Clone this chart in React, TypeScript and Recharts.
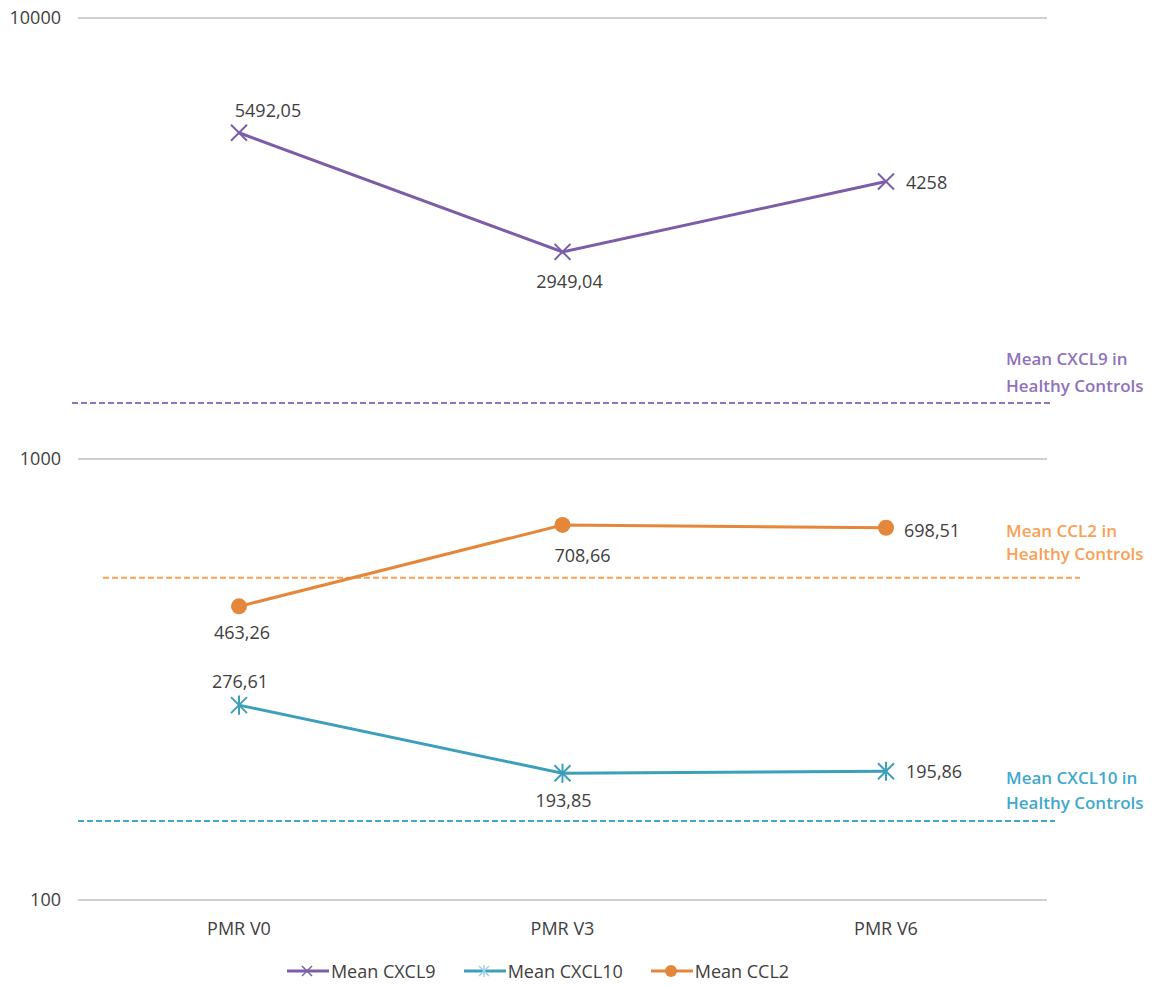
import React from 'react';
import { LineChart, Line, XAxis, YAxis, CartesianGrid, ReferenceLine, Legend } from 'recharts';

const categories = ['PMR V0', 'PMR V3', 'PMR V6'];
const cxcl9 = [5492.05, 2949.04, 4258];
const cxcl10 = [276.61, 193.85, 195.86];
const ccl2 = [463.26, 708.66, 698.51];
const cxcl9Labels = ['5492,05', '2949,04', '4258'];
const cxcl10Labels = ['276,61', '193,85', '195,86'];
const ccl2Labels = ['463,26', '708,66', '698,51'];
const healthyCXCL9 = 1340;
const healthyCCL2 = 538;
const healthyCXCL10 = 151;
const yTicks = [100, 1000, 10000];
const seriesNames = ['Mean CXCL9', 'Mean CXCL10', 'Mean CCL2'];

const data = categories.map((name, i) => ({
  name,
  cxcl9: cxcl9[i],
  cxcl10: cxcl10[i],
  ccl2: ccl2[i],
}));

const C9 = '#7b5ea7';
const C10 = '#3d9fba';
const CC2 = '#e4873b';
const C9ref = '#8f72bb';
const C10ref = '#3fa9cc';
const CC2ref = '#f9a055';
const LABEL = '#404040';
const FONT = "'Open Sans', sans-serif";

type Pos = { dx: number; dy: number; anchor: 'start' | 'middle' | 'end' };
const pos9: Pos[] = [
  { dx: 29, dy: -23, anchor: 'middle' },
  { dx: 7, dy: 29, anchor: 'middle' },
  { dx: 20, dy: 0, anchor: 'start' },
];
const posCC2: Pos[] = [
  { dx: 3, dy: 26, anchor: 'middle' },
  { dx: 20, dy: 30, anchor: 'middle' },
  { dx: 18, dy: 2, anchor: 'start' },
];
const pos10: Pos[] = [
  { dx: 1, dy: -24, anchor: 'middle' },
  { dx: 1, dy: 27, anchor: 'middle' },
  { dx: 20, dy: 0, anchor: 'start' },
];

const XMark = ({ cx, cy, color, r = 8, w = 2 }: any) => (
  <g>
    <line x1={cx - r} y1={cy - r} x2={cx + r} y2={cy + r} stroke={color} strokeWidth={w} />
    <line x1={cx - r} y1={cy + r} x2={cx + r} y2={cy - r} stroke={color} strokeWidth={w} />
  </g>
);
const StarMark = ({ cx, cy, color, r = 8, w = 2 }: any) => (
  <g>
    <line x1={cx - r} y1={cy - r} x2={cx + r} y2={cy + r} stroke={color} strokeWidth={w} />
    <line x1={cx - r} y1={cy + r} x2={cx + r} y2={cy - r} stroke={color} strokeWidth={w} />
    <line x1={cx} y1={cy - r * 1.2} x2={cx} y2={cy + r * 1.2} stroke={color} strokeWidth={w} />
  </g>
);
const CircleMark = ({ cx, cy, color, r = 8 }: any) => <circle cx={cx} cy={cy} r={r} fill={color} />;

const makeLabel = (texts: string[], positions: Pos[]) => (p: any) => {
  const { x, y, index } = p;
  const ps = positions[index];
  return (
    <text
      key={`l-${index}`}
      x={x + ps.dx}
      y={y + ps.dy}
      textAnchor={ps.anchor}
      dominantBaseline="central"
      fill={LABEL}
      fontSize={18}
      fontFamily={FONT}
    >
      {texts[index]}
    </text>
  );
};

const makeRef = (color: string, extL: number, extR: number, lines: string[], dys: number[]) => (p: any) => {
  const { x1, y1, x2, y2 } = p;
  return (
    <g>
      <line x1={x1 - extL} y1={y1} x2={x2 + extR} y2={y2} stroke={color} strokeWidth={2} strokeDasharray="6 3" />
      {lines.map((t, i) => (
        <text
          key={i}
          x={x2 - 41}
          y={y1 + dys[i]}
          dominantBaseline="central"
          fill={color}
          fontSize={17}
          fontWeight={600}
          fontFamily={FONT}
        >
          {t}
        </text>
      ))}
    </g>
  );
};

const legendIcons = [
  (c: string) => <XMark cx={20} cy={10} color={c} r={5} w={1.5} />,
  (c: string) => <StarMark cx={20} cy={10} color="#9fd3e3" r={5} w={1.5} />,
  (c: string) => <CircleMark cx={20} cy={10} color={c} r={6} />,
];
const legendColors = [C9, C10, CC2];

const renderLegend = () => (
  <div style={{ display: 'flex', justifyContent: 'center', gap: 28, height: 30, alignItems: 'center', fontFamily: FONT, fontSize: 18, color: '#404040' }}>
    {seriesNames.map((n, i) => (
      <div key={n} style={{ display: 'flex', alignItems: 'center' }}>
        <svg width={42} height={20}>
          <line x1={0} y1={10} x2={42} y2={10} stroke={legendColors[i]} strokeWidth={3} />
          {legendIcons[i](legendColors[i])}
        </svg>
        <span style={{ marginLeft: 2 }}>{n}</span>
      </div>
    ))}
  </div>
);

export default function App() {
  return (
    <div style={{ fontFamily: FONT, width: 1157, height: 987, background: '#fff' }}>
      <style>{`body{margin:0}`}</style>
      <LineChart width={1157} height={987} data={data} margin={{ top: 18, right: 110, left: 0, bottom: 5 }}>
        <CartesianGrid horizontal vertical={false} stroke="#cfcfcf" strokeWidth={2} />
        <XAxis
          dataKey="name"
          axisLine={false}
          tickLine={false}
          height={52}
          tickMargin={16}
          padding={{ left: 161, right: 161 }}
          tick={{ fill: '#404040', fontSize: 18, fontFamily: FONT }}
        />
        <YAxis
          scale="log"
          domain={[100, 10000]}
          ticks={yTicks}
          allowDataOverflow
          axisLine={false}
          tickLine={false}
          width={78}
          tickMargin={11}
          tick={{ fill: '#404040', fontSize: 18, fontFamily: FONT }}
        />
        <ReferenceLine y={healthyCXCL9} shape={makeRef(C9ref, 6, 3, ['Mean CXCL9 in', 'Healthy Controls'], [-44, -17])} />
        <ReferenceLine y={healthyCCL2} shape={makeRef(CC2ref, -25, 33, ['Mean CCL2 in', 'Healthy Controls'], [-47, -24])} />
        <ReferenceLine y={healthyCXCL10} shape={makeRef(C10ref, 0, 8, ['Mean CXCL10 in', 'Healthy Controls'], [-44, -19])} />
        <Line
          dataKey="cxcl9"
          name={seriesNames[0]}
          stroke={C9}
          strokeWidth={3}
          isAnimationActive={false}
          dot={(p: any) => <XMark key={`d9-${p.index}`} cx={p.cx} cy={p.cy} color={C9} />}
          label={makeLabel(cxcl9Labels, pos9)}
        />
        <Line
          dataKey="cxcl10"
          name={seriesNames[1]}
          stroke={C10}
          strokeWidth={3}
          isAnimationActive={false}
          dot={(p: any) => <StarMark key={`d10-${p.index}`} cx={p.cx} cy={p.cy} color={C10} />}
          label={makeLabel(cxcl10Labels, pos10)}
        />
        <Line
          dataKey="ccl2"
          name={seriesNames[2]}
          stroke={CC2}
          strokeWidth={3}
          isAnimationActive={false}
          dot={(p: any) => <CircleMark key={`dc-${p.index}`} cx={p.cx} cy={p.cy} color={CC2} />}
          label={makeLabel(ccl2Labels, posCC2)}
        />
        <Legend verticalAlign="bottom" content={renderLegend} wrapperStyle={{ left: 0, width: 1076, bottom: 1 }} />
      </LineChart>
    </div>
  );
}
